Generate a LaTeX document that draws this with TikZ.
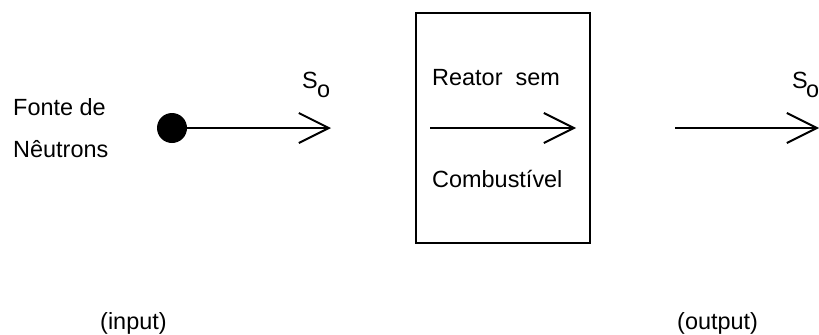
\documentclass[tikz,border=0pt]{standalone}
\usepackage{fontspec}
\setmainfont{Liberation Sans}
\usetikzlibrary{arrows.meta}

\tikzset{
  txt/.style={inner sep=0pt, anchor=base west, font=\fontsize{20}{24}\selectfont},
  seta/.style={line width=1.7pt, -{Straight Barb[length=0.9cm, width=0.9cm]}},
}

\begin{document}
\begin{tikzpicture}[x=0.03cm, y=-0.03cm]
    \useasboundingbox (0,0) rectangle (819,334);
    % Fonte de neutrons
    \node[txt] (fonte) at (13,115) {Fonte de};
    \node[txt] (neutrons) at (13,157) {Nêutrons};
    \node[circle, fill=black, inner sep=0pt, minimum size=0.9cm] (src) at (172,128) {};
    \coordinate (in) at (331,128);
    \draw[seta] (src) -- (in);
    \node[txt] (s1) at (302,88) {S};
    \node[txt] (o1) at (317,97) {o};
    % Reator
    \node[draw, line width=2.1pt, minimum width=5.22cm, minimum height=6.9cm] (reator) at (503,128) {};
    \node[txt] (rsem) at (432,85) {Reator~ sem};
    \node[txt] (comb) at (432,187) {Combustível};
    \coordinate (r1) at (430,128);
    \coordinate (r2) at (576,128);
    \draw[seta] (r1) -- (r2);
    % Saida
    \coordinate (o1a) at (675,128);
    \coordinate (o1b) at (819,128);
    \draw[seta] (o1a) -- (o1b);
    \node[txt] (s2) at (792,88) {S};
    \node[txt] (o2) at (806,97) {o};
    % Rotulos
    \node[txt] (input) at (100,329) {(input)};
    \node[txt] (output) at (677,329) {(output)};
\end{tikzpicture}
\end{document}
